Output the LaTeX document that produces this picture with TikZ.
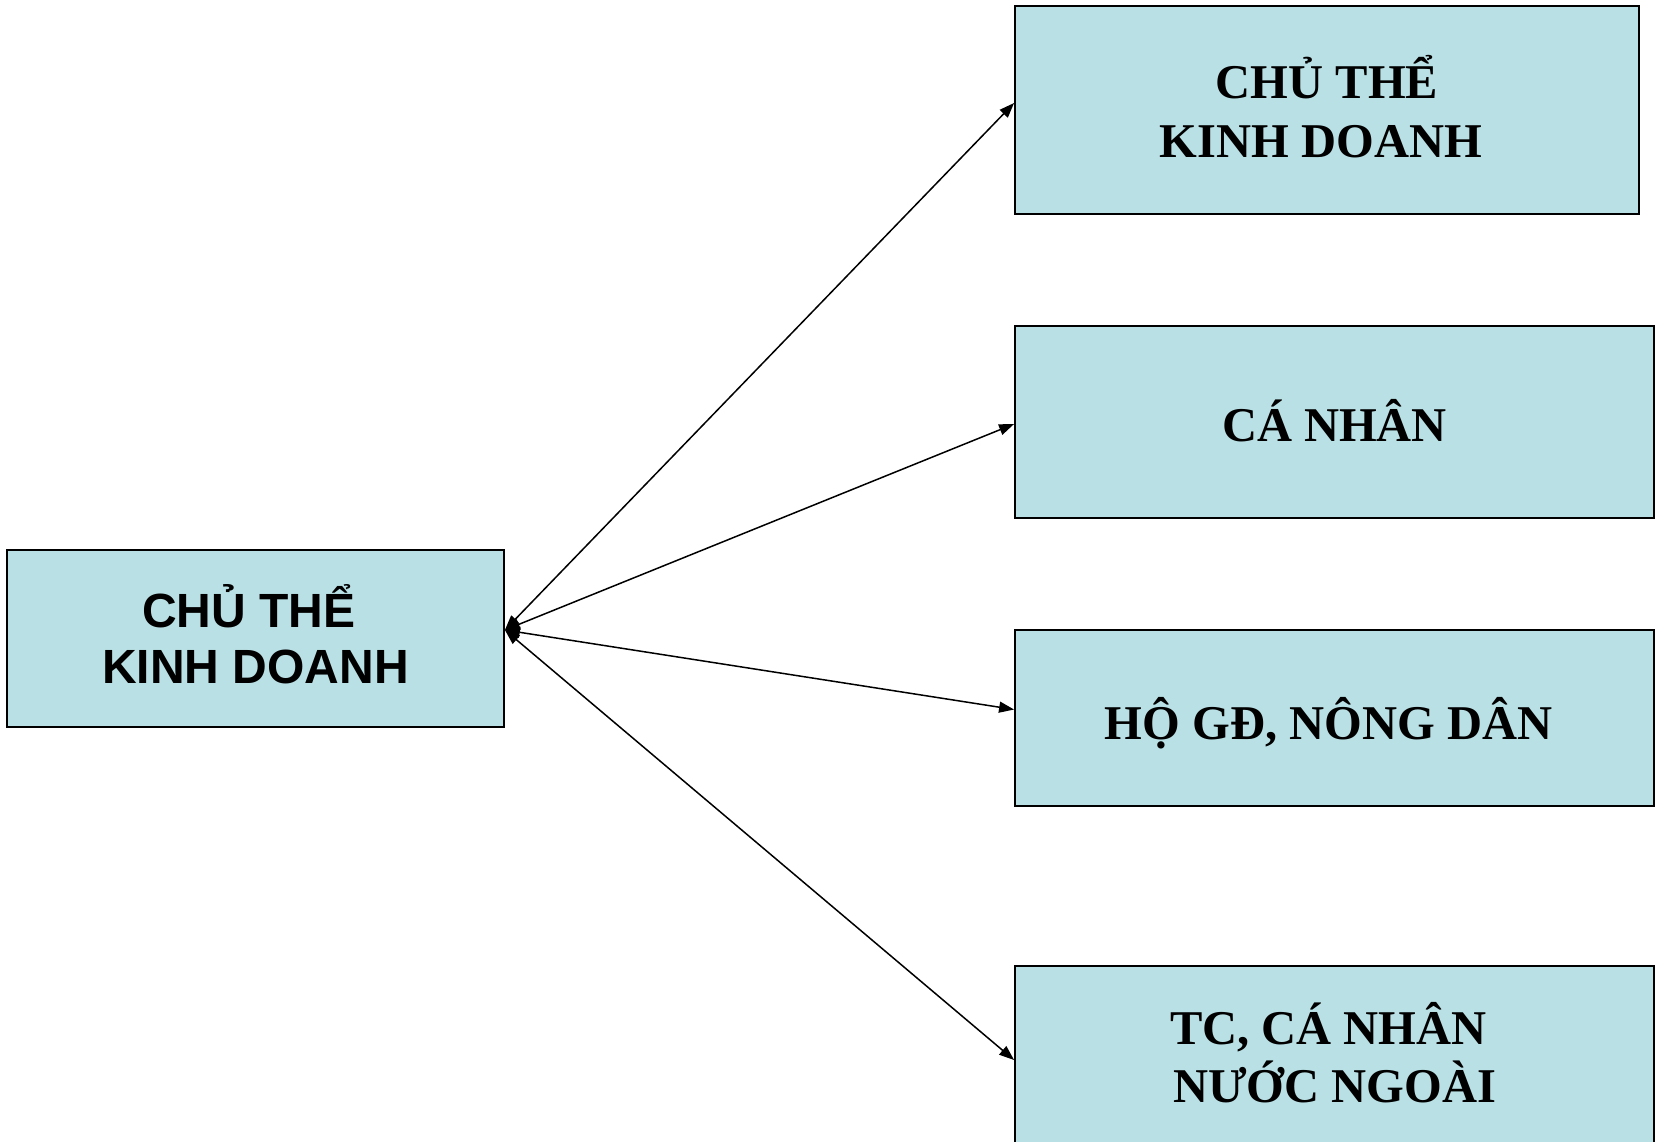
\documentclass[tikz,border=0pt]{standalone}
\usepackage{fontspec}
\setmainfont{Liberation Serif}
\newfontfamily\headfont{Liberation Sans}
\usetikzlibrary{arrows.meta}
\definecolor{boxfill}{RGB}{185,224,228}
\begin{document}
\begin{tikzpicture}[x=1pt,y=-1pt,
  box/.style={draw=black, line width=1.8pt, fill=boxfill, inner sep=0pt,
    align=center, text depth=0pt, font=\bfseries\fontsize{48.5}{58.5}\selectfont},
  headbox/.style={box, font=\headfont\bfseries\fontsize{48}{56}\selectfont},
  link/.style={line width=1.5pt,
    {Triangle[length=15pt,width=11pt]}-{Triangle[length=15pt,width=11pt]}}]
\useasboundingbox (0,0) rectangle (1655,1141);

% central entity on the left
\node[headbox, minimum width=497pt, minimum height=177pt, text height=90.4pt]
  (L) at (255.5,638.5) {CHỦ THỂ\kern.278em\\KINH DOANH};

% categories on the right
\node[box, minimum width=624pt, minimum height=208pt, text height=94.1pt]
  (B1) at (1327,110) {CHỦ THỂ\\KINH DOANH\kern.25em};
\node[box, minimum width=639pt, minimum height=192pt, text height=38.1pt]
  (B2) at (1334.5,422) {CÁ NHÂN};
\node[box, minimum width=639pt, minimum height=176pt, text height=42.1pt]
  (B3) at (1334.5,718) {HỘ GĐ, NÔNG DÂN\kern.25em};
\node[box, minimum width=639pt, minimum height=183pt, text height=90.6pt]
  (B4) at (1334.5,1057.5) {TC, CÁ NHÂN\kern.25em\\NƯỚC NGOÀI};

% common starting point of the connectors
\coordinate (hub) at ([yshift=8.5pt]L.east);

\draw[link] (hub) -- ([yshift=7pt]B1.west);
\draw[link] (hub) -- ([yshift=-2pt]B2.west);
\draw[link] (hub) -- ([yshift=8.5pt]B3.west);
\draw[link] (hub) -- ([yshift=-2.5pt]B4.west);
\end{tikzpicture}
\end{document}
